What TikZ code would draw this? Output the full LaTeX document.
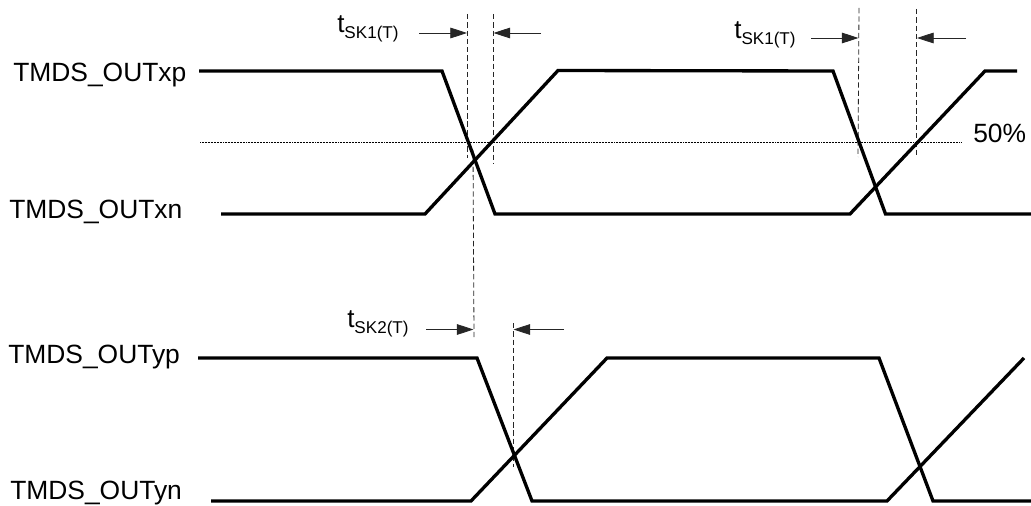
\documentclass[tikz,border=0pt]{standalone}
\usepackage{fontspec}
\setmainfont{Liberation Sans}
\usetikzlibrary{arrows.meta}
\tikzset{
  x=0.75pt,y=-0.75pt,
  signal/.style={line width=2.5pt,line join=miter,black},
  level/.style={line width=0.6pt,line cap=butt,dash pattern=on 0.75pt off 0.4pt},
  guide/.style={line width=0.6pt,dash pattern=on 4pt off 2.2pt,black!85},
  meas/.style={line width=0.6pt,-{Triangle[length=12.5pt,width=8pt]},black!85},
  lab/.style={anchor=base west,inner sep=0pt,font=\fontsize{19.8pt}{22pt}\selectfont},
  tsk/.style={anchor=base west,inner sep=0pt,font=\fontsize{19.5pt}{22pt}\selectfont},
}
\newcommand{\sk}[1]{t\raisebox{-4.4pt}{\fontsize{12.8pt}{14pt}\selectfont #1}}
\begin{document}
\begin{tikzpicture}
\useasboundingbox (0,0) rectangle (1031,506);
% labels
\node[lab] (xp) at (13,82) {TMDS\_OUTxp};
\node[lab] (xn) at (9,218) {TMDS\_OUTxn};
\node[lab] (yp) at (8,363) {TMDS\_OUTyp};
\node[lab] (yn) at (10,499) {TMDS\_OUTyn};
\node[lab] (pct) at (973,143) {50\%};
\node[tsk] (t1) at (337,33) {\sk{SK1(T)}};
\node[tsk] (t2) at (734,38.5) {\sk{SK1(T)}};
\node[tsk] (t3) at (347,327.5) {\sk{SK2(T)}};
% 50% level
\draw[level] (200,142) -- (962,142);
% guides
\draw[guide] (467,14) -- (467,158);
\draw[guide] (493,14) -- (493,164);
\draw[guide] (859,8) -- (858,157);
\draw[guide] (916.5,9) -- (916.5,157);
\draw[guide] (473,150) -- (474,337);
\draw[guide] (513,323) -- (513,467);
% measuring arrows
\draw[meas] (419,33) -- (467,33);
\draw[meas] (541,33) -- (493.5,33);
\draw[meas] (811,38) -- (858.5,38);
\draw[meas] (966,38) -- (917,38);
\draw[meas] (426,329.5) -- (473.5,329.5);
\draw[meas] (564,329.5) -- (513.5,329.5);
% signals
\draw[signal] (199,71) -- (442,71) -- (495,214) -- (850,214) -- (985,71) -- (1017,71);
\draw[signal] (221,214) -- (425,214) -- (558,70.5) -- (833,71) -- (885.5,214) -- (1031,214);
\draw[signal] (198,358) -- (477,358) -- (532,501) -- (887,501) -- (1024,358);
\draw[signal] (211,501) -- (471,501) -- (607,358) -- (879,358) -- (933,501) -- (1031,501);
\end{tikzpicture}
\end{document}
